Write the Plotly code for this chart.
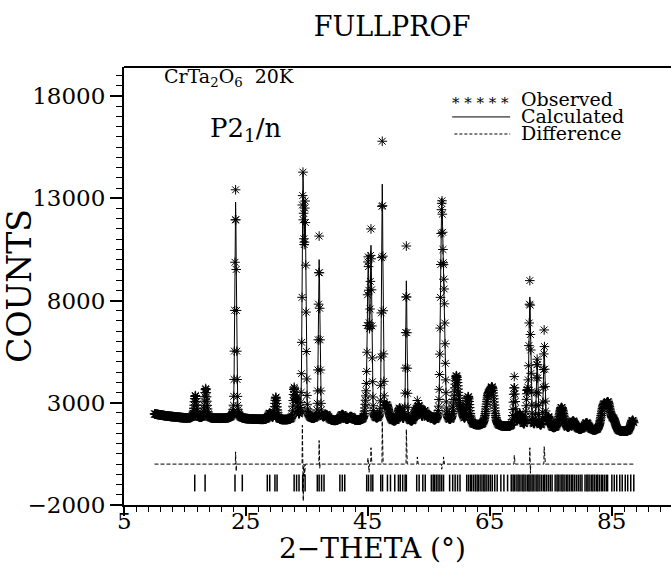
import numpy as np
import plotly.graph_objects as go

# ---------------- data ----------------
scan_start, scan_end, scan_step = 10.0, 88.6, 0.05

bg_2theta = [10, 12, 15, 20, 25, 30, 35, 40, 45, 50, 55, 60, 65, 70, 75, 80, 85, 88.6]
bg_counts = [2450, 2350, 2250, 2230, 2200, 2150, 2120, 2100, 2080, 2030, 1980, 1900, 1830, 1780, 1720, 1650, 1560, 1580]

peak_2theta = [16.7, 18.4, 23.3, 28.9, 29.9, 32.9, 33.3, 34.35, 34.7, 37.0, 38.2, 40.8, 42.2,
               44.7, 45.05, 45.5, 47.35, 48.1, 50.2, 51.3, 52.9, 53.4, 54.3, 55.2, 57.1, 57.5,
               59.5, 60.3, 61.45, 64.7, 65.4, 69.0, 69.9, 71.1, 71.55, 72.75, 73.9, 74.6, 76.75,
               78.65, 80.85, 83.6, 84.4, 85.3, 88.4]
peak_height = [1100, 1450, 10600, 300, 1100, 1500, 900, 11500, 10000, 7850, 250, 300, 200,
               800, 7600, 8300, 11500, 700, 650, 6900, 500, 700, 550, 300, 10500, 5000,
               2300, 500, 1350, 1300, 1700, 2000, 600, 1500, 6300, 3300, 3900, 500, 1050,
               400, 350, 1100, 1250, 500, 550]
peak_fwhm = [0.45, 0.45, 0.3, 0.6, 0.45, 0.35, 0.35, 0.3, 0.3, 0.3, 0.8, 0.8, 0.8,
             0.4, 0.32, 0.32, 0.28, 0.8, 0.6, 0.25, 0.6, 0.6, 0.6, 0.8, 0.45, 0.4,
             0.8, 0.8, 0.6, 0.8, 0.8, 0.35, 0.7, 0.35, 0.35, 0.3, 0.3, 0.6, 0.9,
             0.9, 0.9, 0.9, 0.9, 0.8, 0.7]

# observed points that sit off the calculated curve (2theta, obs - calc)
obs_dev_2theta = [23.30, 23.40, 34.25, 34.40, 34.60, 37.00, 37.10, 45.00, 45.20, 45.50,
                  47.35, 51.30, 53.10, 57.10, 57.40, 69.00, 71.55, 71.65, 73.90, 73.95]
obs_dev_counts = [600, -350, 1900, -1800, -600, 1150, -200, 300, -400, 800,
                  2100, 1700, 350, -250, 350, 430, 800, -450, 850, 350]

bragg_2theta = [16.6, 18.3, 23.2, 24.4, 28.5, 28.9, 29.75, 30.1, 32.9, 33.3, 33.7, 34.3, 34.7,
                36.7, 37.0, 37.4, 37.8, 40.4, 40.8, 41.2,
                44.8, 45.1, 45.5, 45.8, 47.1, 47.4, 48.2, 48.7, 49.4, 50.0, 50.3, 50.7, 51.1, 51.3,
                53.0, 53.4, 54.0, 54.4, 55.4, 55.7, 55.9, 56.2, 56.5, 56.8, 57.1, 57.4,
                58.4, 58.9, 59.3, 59.7, 60.1,
                61.2, 61.5, 61.8, 62.0, 62.3, 62.6, 62.9, 63.1, 63.4, 63.7, 64.0, 64.2, 64.5,
                64.8, 65.1, 65.4, 65.8,
                66.2, 66.8, 67.3, 67.9, 68.5,
                68.8, 69.0, 69.3, 69.6, 69.8, 70.1, 70.4, 70.6, 70.9, 71.2, 71.4, 71.6, 71.9,
                72.1, 72.4, 72.7, 72.9, 73.2, 73.5, 73.8, 74.0, 74.3, 74.6, 74.9, 75.2,
                75.7, 76.0, 76.2, 76.5, 76.8, 77.0, 77.3, 77.6, 77.8, 78.1, 78.4, 78.6, 78.9,
                79.2, 79.5, 79.8, 80.1,
                80.6, 80.9, 81.1, 81.4, 81.7, 81.9, 82.2, 82.5, 82.7, 83.0, 83.3, 83.5, 83.8,
                84.1, 84.3,
                85.0, 85.4, 85.8, 86.3, 86.7, 87.2, 87.6, 88.1, 88.6]

x_ticks = [5, 25, 45, 65, 85]
y_ticks = [-2000, 3000, 8000, 13000, 18000]

# ---------------- build profile ----------------
tt = np.arange(scan_start, scan_end + 1e-9, scan_step)
calc = np.interp(tt, bg_2theta, bg_counts).astype(float)
eta = 0.3
for p, h, w in zip(peak_2theta, peak_height, peak_fwhm):
    d = (tt - p) / w
    g = np.exp(-4 * np.log(2) * d ** 2)
    l = 1.0 / (1.0 + 4 * d ** 2)
    calc += h * (eta * l + (1 - eta) * g)

obs = calc.copy()
for p, dv in zip(obs_dev_2theta, obs_dev_counts):
    i = int(np.argmin(np.abs(tt - p)))
    obs[i] += dv
diff = obs - calc

BRAGG_LEVEL = -925
FONT = "DejaVu Serif"

fig = go.Figure()
fig.add_trace(go.Scatter(x=tt, y=obs, mode="markers",
                         marker=dict(symbol="asterisk-open", size=8, color="black",
                                     line=dict(width=1, color="black")),
                         showlegend=False))
fig.add_trace(go.Scatter(x=tt, y=calc, mode="lines",
                         line=dict(color="black", width=1), showlegend=False))
fig.add_trace(go.Scatter(x=tt, y=diff, mode="lines",
                         line=dict(color="black", width=1, dash="4px,2px"), showlegend=False))
fig.add_trace(go.Scatter(x=bragg_2theta, y=[BRAGG_LEVEL] * len(bragg_2theta), mode="markers",
                         marker=dict(symbol="line-ns-open", size=12, color="black",
                                     line=dict(width=1.5, color="black")),
                         showlegend=False))

axis_font = dict(family=FONT, size=23, color="black")
fig.update_layout(
    width=671, height=569,
    margin=dict(l=124, r=0, t=67, b=64),
    plot_bgcolor="white", paper_bgcolor="white",
    title=dict(text="FULLPROF", font=dict(family=FONT, size=27, color="black"),
               x=0.49, xref="paper", xanchor="center", y=1 - 27 / 569, yref="container",
               yanchor="middle"),
    xaxis=dict(range=[5, 94.7], tickvals=x_ticks, ticks="outside", ticklen=9, tickwidth=1.5,
               tickcolor="black", showline=True, linecolor="black", linewidth=2,
               showgrid=False, zeroline=False, showticklabels=False,
               minor=dict(dtick=2, tick0=5, ticks="outside", ticklen=5, tickcolor="black",
                          tickwidth=1, showgrid=False)),
    yaxis=dict(range=[-2000, 19420], tickvals=y_ticks, tickformat="d", ticks="outside",
               ticklen=12, tickwidth=1.5, tickcolor="black", showline=True, linecolor="black",
               linewidth=2, showgrid=False, zeroline=False, tickfont=axis_font,
               minor=dict(dtick=500, tick0=-2000, ticks="outside", ticklen=6,
                          tickcolor="black", tickwidth=1, showgrid=False),
               title=dict(text="COUNTS", font=dict(family=FONT, size=33, color="black"),
                          standoff=0)),
)

# x tick labels placed on the x axis values, just under the ticks
for v in x_ticks:
    fig.add_annotation(text=str(v), xref="x", yref="paper", x=v, y=0, yshift=-16,
                       xanchor="center", yanchor="middle", showarrow=False, font=axis_font)
fig.add_annotation(text="2−THETA (°)", xref="paper", yref="paper", x=0.455, y=0, yshift=-43,
                   xanchor="center", yanchor="middle", showarrow=False,
                   font=dict(family=FONT, size=28, color="black"))

# top frame line
fig.add_shape(type="line", xref="paper", yref="paper", x0=0, x1=1, y0=1, y1=1,
              line=dict(color="black", width=2))

# labels inside the plot
fig.add_annotation(text="CrTa<sub>2</sub>O<sub>6</sub>  20K", xref="paper", yref="paper",
                   x=0.069, y=0.975, xanchor="left", yanchor="middle", showarrow=False,
                   font=dict(family=FONT, size=19, color="black"))
fig.add_annotation(text="P2<sub>1</sub>/n", xref="paper", yref="paper",
                   x=0.153, y=0.858, xanchor="left", yanchor="middle", showarrow=False,
                   font=dict(family=FONT, size=26, color="black"))

# legend
leg_font = dict(family=FONT, size=19, color="black")
leg_rows = [("Observed", 0.927), ("Calculated", 0.888), ("Difference", 0.849)]
for name, yy in leg_rows:
    fig.add_annotation(text=name, xref="paper", yref="paper", x=0.722, y=yy,
                       xanchor="left", yanchor="middle", showarrow=False, font=leg_font)
fig.add_annotation(text="* * * * *", xref="paper", yref="paper", x=0.652, y=0.917,
                   xanchor="center", yanchor="middle", showarrow=False,
                   font=dict(family=FONT, size=15, color="black"))
fig.add_shape(type="line", xref="paper", yref="paper", x0=0.600, x1=0.706, y0=0.886, y1=0.886,
              line=dict(color="black", width=1))
fig.add_shape(type="line", xref="paper", yref="paper", x0=0.604, x1=0.706, y0=0.847, y1=0.847,
              line=dict(color="black", width=1, dash="3px,2px"))

fig.write_html("out.html")
